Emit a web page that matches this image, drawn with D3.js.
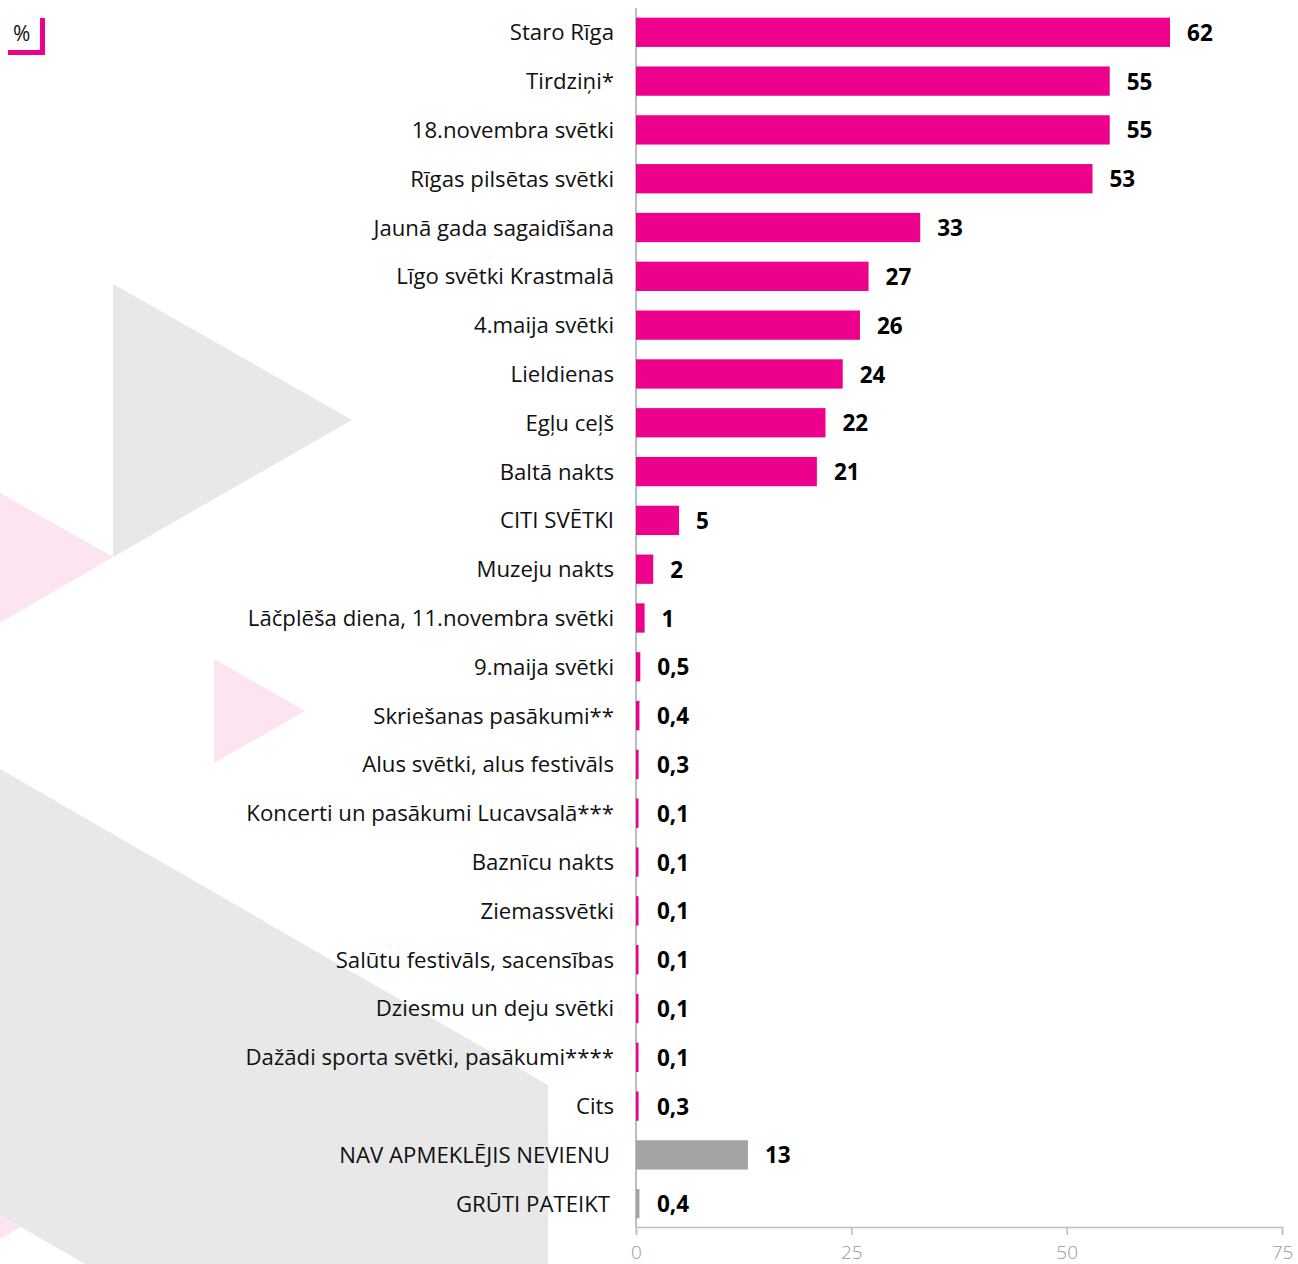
<!DOCTYPE html>
<html>
<head>
<meta charset="utf-8">
<script src="https://cdn.jsdelivr.net/npm/d3@7"></script>
<style>
  body { margin: 0; background: #fff; }
  svg { display: block; }
</style>
</head>
<body>
<svg id="chart"></svg>
<script>
// survey data, %
var categories = [
  'Staro Rīga', 'Tirdziņi*', '18.novembra svētki', 'Rīgas pilsētas svētki',
  'Jaunā gada sagaidīšana', 'Līgo svētki Krastmalā', '4.maija svētki', 'Lieldienas',
  'Egļu ceļš', 'Baltā nakts', 'CITI SVĒTKI', 'Muzeju nakts',
  'Lāčplēša diena, 11.novembra svētki', '9.maija svētki', 'Skriešanas pasākumi**',
  'Alus svētki, alus festivāls', 'Koncerti un pasākumi Lucavsalā***', 'Baznīcu nakts',
  'Ziemassvētki', 'Salūtu festivāls, sacensības', 'Dziesmu un deju svētki',
  'Dažādi sporta svētki, pasākumi****', 'Cits', 'NAV APMEKLĒJIS NEVIENU', 'GRŪTI PATEIKT'
];
var values = [62, 55, 55, 53, 33, 27, 26, 24, 22, 21, 5, 2, 1, 0.5, 0.4, 0.3, 0.1, 0.1, 0.1, 0.1, 0.1, 0.1, 0.3, 13, 0.4];
var greyCategories = ['NAV APMEKLĒJIS NEVIENU', 'GRŪTI PATEIKT'];
var xTicks = [0, 25, 50, 75];

var width = 1298, height = 1264;
var pink = '#ec008c';

var svg = d3.select('#chart')
  .attr('width', width)
  .attr('height', height);

// background decoration
var bg = svg.append('g');
bg.append('polygon').attr('points', '113,284 352,420 113,557').attr('fill', '#e8e8e8');
bg.append('polygon').attr('points', '0,493 113,557 0,623').attr('fill', '#fce4f1');
bg.append('polygon').attr('points', '214,659 305,711 214,763').attr('fill', '#fce4f1');
bg.append('polygon').attr('points', '0,769 548,1085 548,1264 85,1264 21,1227 0,1215').attr('fill', '#e8e8e8');
bg.append('polygon').attr('points', '0,1215 21,1227 0,1239').attr('fill', '#fce4f1');

// % marker
svg.append('text')
  .attr('x', 13).attr('y', 41)
  .attr('font-family', 'Open Sans, sans-serif')
  .attr('font-size', 21)
  .attr('fill', '#111')
  .text('%');
svg.append('path')
  .attr('d', 'M8,52.5 H42.5 V18')
  .attr('fill', 'none')
  .attr('stroke', pink)
  .attr('stroke-width', 5);

var x = d3.scaleLinear().domain([0, 75]).range([636, 1282]);
var y = d3.scaleBand().domain(categories).range([3, 1233]).paddingInner(0.4).paddingOuter(0.3);

var data = categories.map(function(c, i) { return { name: c, value: values[i] }; });

// axis
var axis = svg.append('g')
  .attr('transform', 'translate(0,1227)')
  .call(d3.axisBottom(x).tickValues(xTicks).tickSize(8).tickPadding(11).tickFormat(d3.format('d')));
axis.select('.domain').attr('stroke', '#bdbdbd').attr('stroke-width', 1.5);
axis.selectAll('.tick line').attr('stroke', '#bdbdbd').attr('stroke-width', 1.5);
axis.selectAll('.tick text')
  .attr('fill', '#9a9a9a')
  .attr('font-family', 'Open Sans, sans-serif')
  .attr('font-weight', 300)
  .attr('font-size', 19);

// baseline
svg.append('line')
  .attr('x1', x(0)).attr('x2', x(0))
  .attr('y1', 8).attr('y2', 1227)
  .attr('stroke', '#bdbdbd')
  .attr('stroke-width', 2);

// bars
svg.selectAll('rect.bar')
  .data(data)
  .enter()
  .append('rect')
  .attr('class', 'bar')
  .attr('x', x(0))
  .attr('y', function(d) { return y(d.name); })
  .attr('height', y.bandwidth())
  .attr('width', function(d) { return Math.max(x(d.value) - x(0), 2.5); })
  .attr('fill', function(d) { return greyCategories.indexOf(d.name) >= 0 ? '#a4a4a7' : pink; });

// category labels
svg.selectAll('text.cat')
  .data(data)
  .enter()
  .append('text')
  .attr('class', 'cat')
  .attr('x', function(d) { return greyCategories.indexOf(d.name) >= 0 ? 610 : 614; })
  .attr('y', function(d) { return y(d.name) + y.bandwidth() / 2; })
  .attr('dy', '0.36em')
  .attr('text-anchor', 'end')
  .attr('font-family', 'Open Sans, sans-serif')
  .attr('font-size', 22.2)
  .attr('fill', '#111')
  .text(function(d) { return d.name; });

// value labels
svg.selectAll('text.val')
  .data(data)
  .enter()
  .append('text')
  .attr('class', 'val')
  .attr('x', function(d) { return x(0) + Math.max(x(d.value) - x(0), 4) + 17; })
  .attr('y', function(d) { return y(d.name) + y.bandwidth() / 2; })
  .attr('dy', '0.38em')
  .attr('font-family', 'Open Sans, sans-serif')
  .attr('font-weight', 700)
  .attr('font-size', 22.5)
  .attr('fill', '#000')
  .text(function(d) { return String(d.value).replace('.', ','); });
</script>
</body>
</html>
